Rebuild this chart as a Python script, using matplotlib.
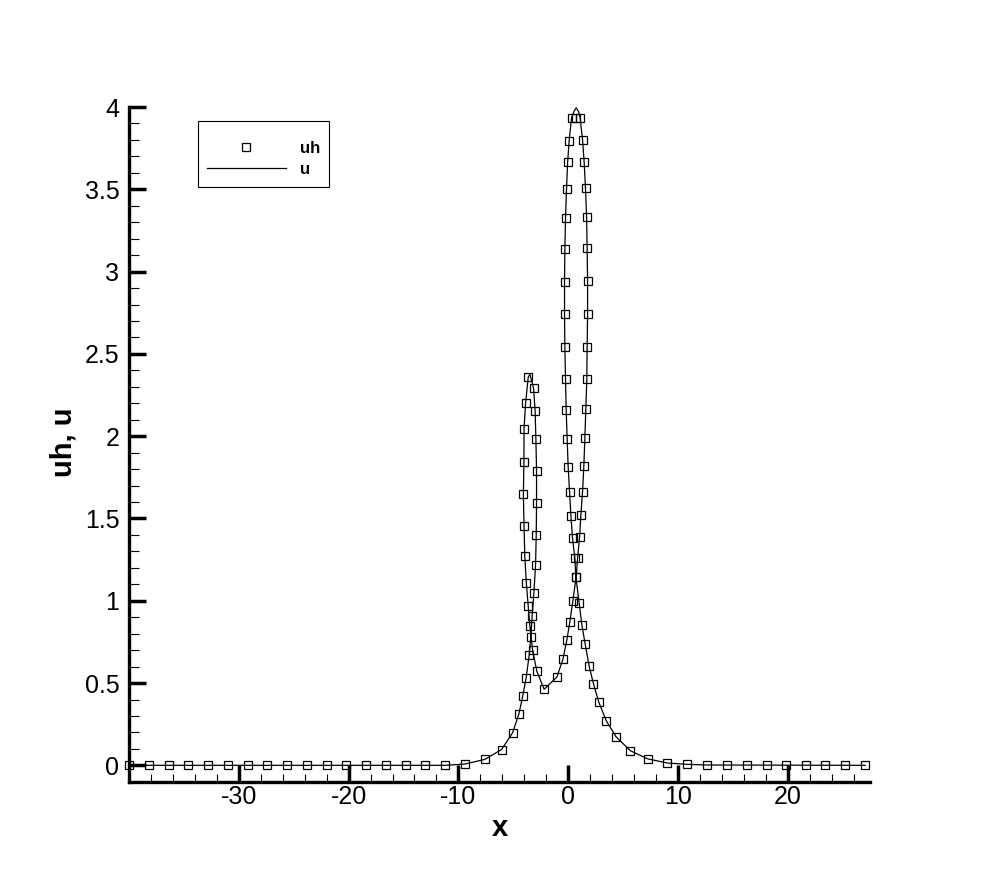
####################################################

# Load modules

import numpy as np
from matplotlib import pyplot as plt
from matplotlib.ticker import MultipleLocator

plt.rcParams['font.family'] = ['Liberation Sans', 'DejaVu Sans']
plt.rcParams['axes.unicode_minus'] = False

####################################################

# Data (loop-shaped curve, so x is not monotonic)

# numerical solution uh (square markers)
uh_x = [-40.0, -38.2, -36.4, -34.6, -32.8, -31.0, -29.2, -27.4, -25.6, -23.8,
        -22.0, -20.2, -18.4, -16.6, -14.8, -13.0, -11.2, -9.4,
        -7.59, -6.07, -5.06, -4.49, -4.14, -3.83, -3.55, -3.40, -3.28, -3.12,
        -2.97, -2.91, -2.88, -2.88, -2.94, -3.01, -3.15,
        -3.64, -3.88, -4.02, -4.03, -4.08, -4.02, -3.95, -3.81, -3.64, -3.49,
        -3.24, -2.85, -2.19,
        -1.03, -0.48, -0.12, 0.15, 0.43, 0.73, 0.86, 1.04, 1.16, 1.31, 1.43,
        1.52, 1.61, 1.70, 1.73, 1.77, 1.77, 1.73, 1.68, 1.58, 1.46, 1.31, 1.09,
        0.70, 0.31, 0.09, -0.05, -0.15, -0.24, -0.30, -0.33, -0.33, -0.30,
        -0.24, -0.18, -0.09, 0.00, 0.13, 0.25, 0.40, 0.61, 0.70,
        1.00, 1.25, 1.55, 1.91, 2.30, 2.78, 3.46, 4.36, 5.66, 7.26, 9.05,
        10.84, 12.66, 14.45, 16.27, 18.07, 19.89, 21.65, 23.44, 25.26, 27.05]
uh_y = [0, 0, 0, 0, 0, 0, 0, 0, 0, 0,
        0, 0, 0, 0, 0, 0, 0.0, 0.01,
        0.036, 0.096, 0.198, 0.312, 0.421, 0.530, 0.670, 0.781, 0.907, 1.049,
        1.217, 1.398, 1.592, 1.791, 1.985, 2.154, 2.292,
        2.357, 2.199, 2.042, 1.845, 1.646, 1.452, 1.270, 1.109, 0.968, 0.848,
        0.700, 0.571, 0.462,
        0.536, 0.644, 0.761, 0.871, 1.000, 1.146, 1.261, 1.387, 1.521, 1.662,
        1.820, 1.987, 2.165, 2.349, 2.543, 2.742, 2.942, 3.141, 3.329, 3.505,
        3.663, 3.801, 3.935,
        3.935, 3.935, 3.795, 3.663, 3.501, 3.327, 3.137, 2.938, 2.740, 2.540,
        2.347, 2.160, 1.982, 1.814, 1.659, 1.516, 1.379, 1.258, 1.146,
        0.988, 0.852, 0.737, 0.603, 0.497, 0.386, 0.272, 0.174, 0.089, 0.039,
        0.014, 0.006, 0, 0, 0, 0, 0, 0, 0, 0, 0]

# exact solution u (thin line)
u_x = [-40.0, -11.2, -9.4,
       -7.59, -6.07, -5.06, -4.49, -4.14, -3.83, -3.55, -3.40, -3.28, -3.12,
       -2.97, -2.91, -2.88, -2.88, -2.94, -3.01, -3.15, -3.49,
       -3.64, -3.88, -4.02, -4.03, -4.08, -4.02, -3.95, -3.81, -3.64, -3.49,
       -3.24, -2.85, -2.19,
       -1.03, -0.48, -0.12, 0.15, 0.43, 0.73, 0.86, 1.04, 1.16, 1.31, 1.43,
       1.52, 1.61, 1.70, 1.73, 1.77, 1.77, 1.73, 1.68, 1.58, 1.46, 1.31, 1.09,
       0.95, 0.73, 0.52,
       0.31, 0.09, -0.05, -0.15, -0.24, -0.30, -0.33, -0.33, -0.30,
       -0.24, -0.18, -0.09, 0.00, 0.13, 0.25, 0.40, 0.61, 0.70,
       1.00, 1.25, 1.55, 1.91, 2.30, 2.78, 3.46, 4.36, 5.66, 7.26, 9.05,
       10.84, 12.66, 27.05]
u_y = [0, 0.0, 0.008,
       0.036, 0.096, 0.198, 0.312, 0.421, 0.530, 0.670, 0.781, 0.907, 1.049,
       1.217, 1.398, 1.592, 1.791, 1.985, 2.154, 2.292, 2.377,
       2.357, 2.199, 2.042, 1.845, 1.646, 1.452, 1.270, 1.109, 0.968, 0.848,
       0.700, 0.571, 0.462,
       0.536, 0.644, 0.761, 0.871, 1.000, 1.146, 1.261, 1.387, 1.521, 1.662,
       1.820, 1.987, 2.165, 2.349, 2.543, 2.742, 2.942, 3.141, 3.329, 3.505,
       3.663, 3.801, 3.935,
       3.972, 3.995, 3.972,
       3.935, 3.795, 3.663, 3.501, 3.327, 3.137, 2.938, 2.740, 2.540,
       2.347, 2.160, 1.982, 1.814, 1.659, 1.516, 1.379, 1.258, 1.146,
       0.988, 0.852, 0.737, 0.603, 0.497, 0.386, 0.272, 0.174, 0.089, 0.039,
       0.014, 0.006, 0.002, 0]

x_ticks = [-30, -20, -10, 0, 10, 20]
y_ticks = [0, 0.5, 1, 1.5, 2, 2.5, 3, 3.5, 4]
y_tick_labels = ["0", "0.5", "1", "1.5", "2", "2.5", "3", "3.5", "4"]

####################################################

# Figure

fig = plt.figure(figsize=(9.9, 8.8), dpi=100)
ax = fig.add_axes([0.1304, 0.1116, 0.7484, 0.7668])

ax.plot(uh_x, uh_y, linestyle='none', marker='s', markersize=5.5,
        markerfacecolor='none', markeredgecolor='black', markeredgewidth=0.9,
        label='uh', clip_on=False, zorder=3)
ax.plot(u_x, u_y, color='black', linewidth=0.9, label='u', zorder=2)

ax.set_xlim(-40, 27.5)
ax.set_ylim(-0.1, 4.0)

# tecplot-like axes: only left / bottom, thick, ticks inward
for side in ['top', 'right']:
    ax.spines[side].set_visible(False)
for side in ['left', 'bottom']:
    ax.spines[side].set_linewidth(2.4)

ax.set_xticks(x_ticks)
ax.set_yticks(y_ticks)
ax.set_yticklabels(y_tick_labels)
ax.xaxis.set_minor_locator(MultipleLocator(2))
ax.yaxis.set_minor_locator(MultipleLocator(0.1))

ax.tick_params(which='major', direction='in', length=12, width=2.5,
               labelsize=18, colors='black')
ax.tick_params(axis='x', which='major', pad=2)
ax.tick_params(axis='y', which='major', pad=7)
ax.tick_params(axis='x', which='minor', direction='in', length=6, width=0.8)
ax.tick_params(axis='y', which='minor', direction='in', length=7, width=0.8)

fig.text(499.5 / 990, 1 - 836 / 880, 'x', ha='center', va='baseline',
         fontsize=21, fontweight='bold')
fig.text(71.7 / 990, 1 - 442.5 / 880, 'uh, u', rotation=90,
         rotation_mode='anchor', ha='center', va='baseline',
         fontsize=21, fontweight='bold')

# legend box (a tiny blank title pushes the rows down like in tecplot)
leg = ax.legend(loc='upper left', bbox_to_anchor=(0.0926, 0.9797),
                borderaxespad=0, prop={'weight': 'bold', 'size': 12},
                handlelength=4.7, handletextpad=0.85, labelspacing=0.36,
                borderpad=0.57, numpoints=1, fancybox=False, framealpha=1,
                edgecolor='black', title=' ', title_fontsize=3.75)
leg.get_frame().set_linewidth(0.8)

plt.savefig('out.png', dpi=100)
